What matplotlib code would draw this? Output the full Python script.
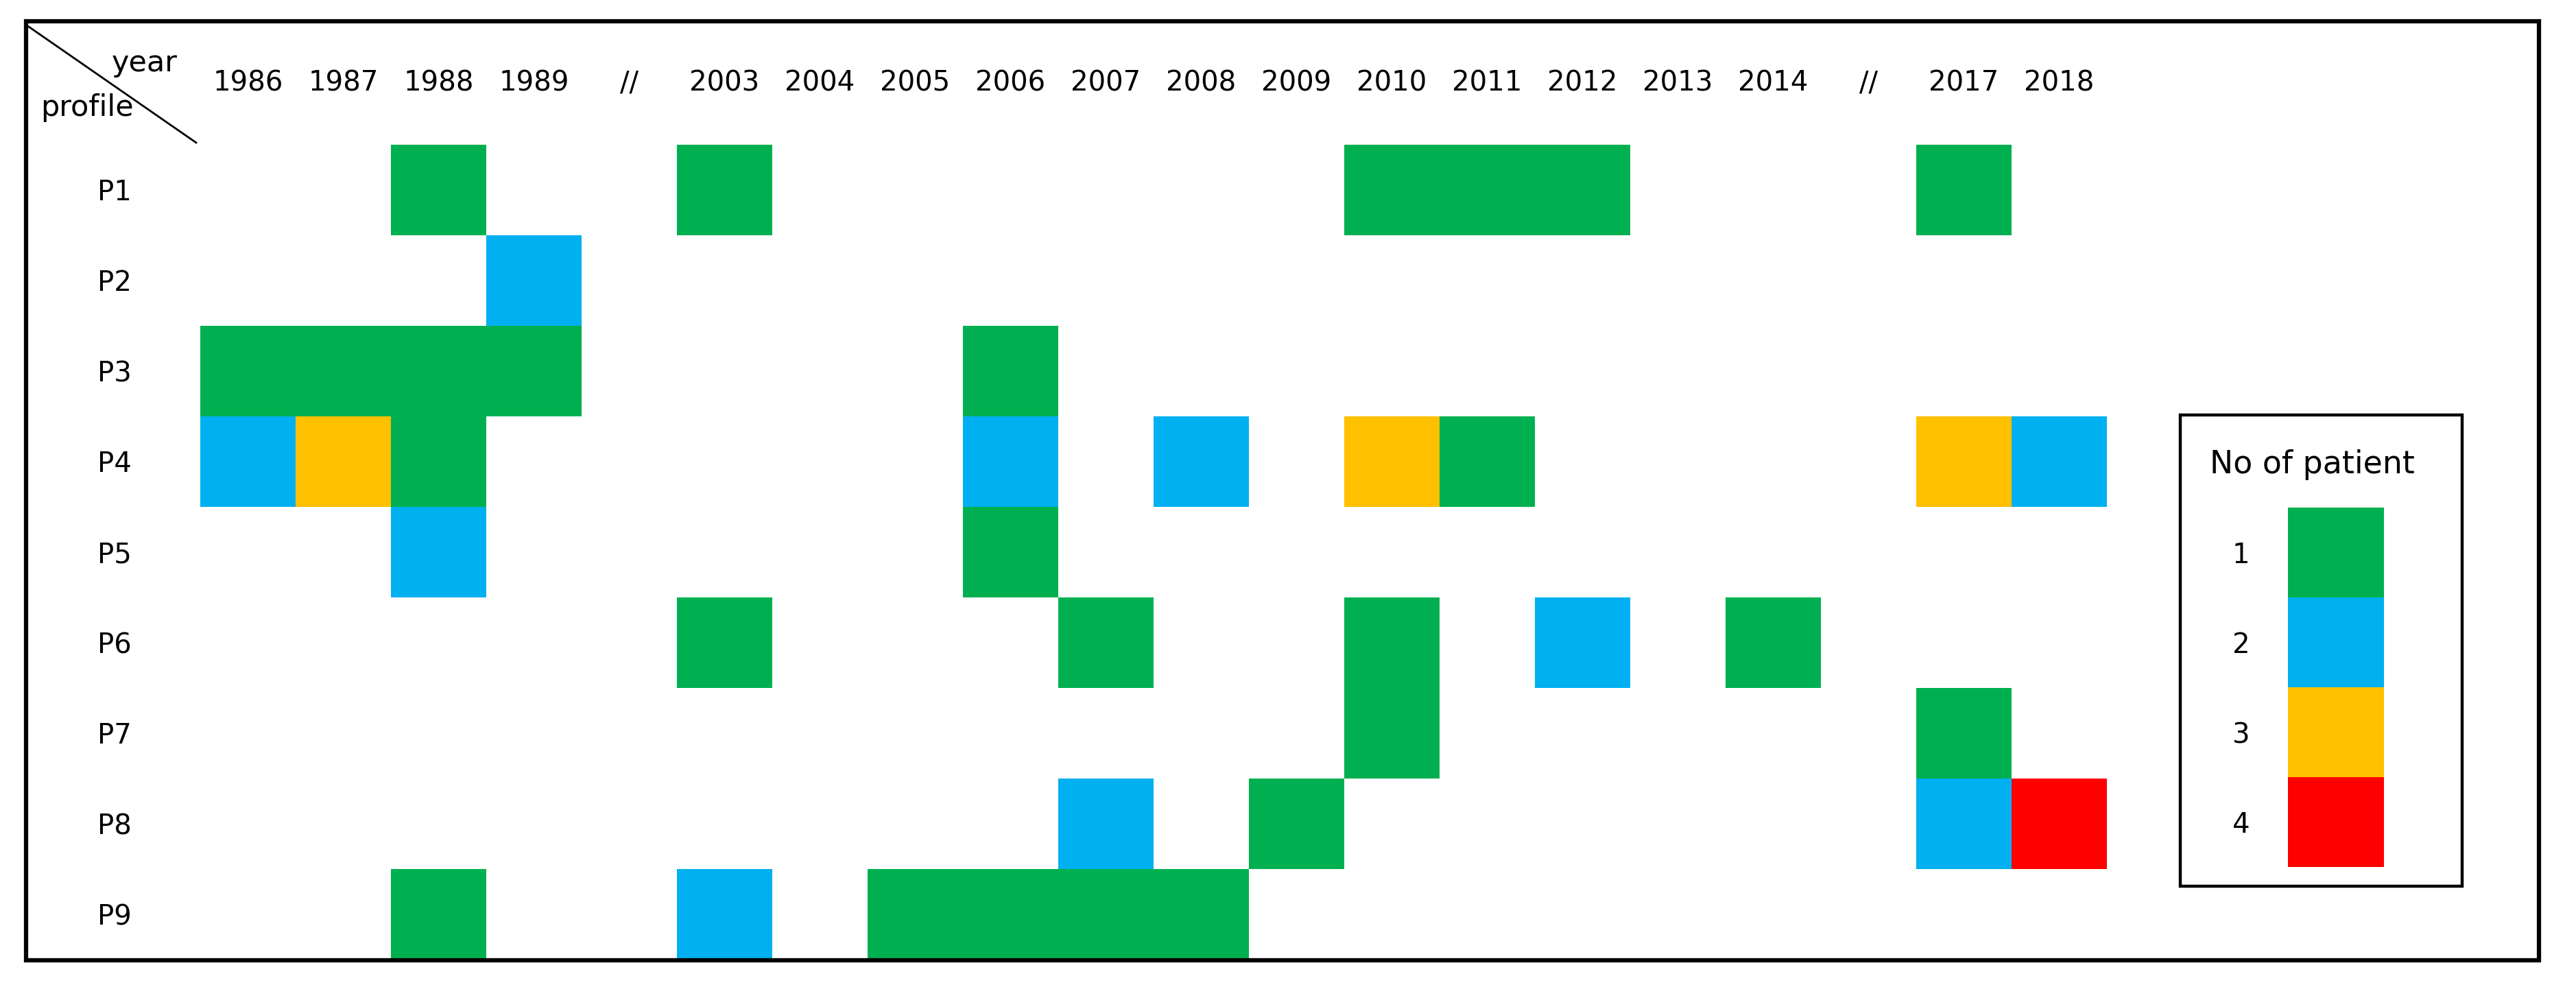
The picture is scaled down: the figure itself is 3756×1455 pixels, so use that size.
import numpy as np
import matplotlib
matplotlib.use("Agg")
import matplotlib.pyplot as plt
from matplotlib.colors import ListedColormap, BoundaryNorm
from matplotlib.patches import Rectangle
from matplotlib.lines import Line2D

# ---- data ----
years = ["1986", "1987", "1988", "1989", "//", "2003", "2004", "2005", "2006", "2007",
         "2008", "2009", "2010", "2011", "2012", "2013", "2014", "//", "2017", "2018"]
profiles = ["P1", "P2", "P3", "P4", "P5", "P6", "P7", "P8", "P9"]

P1 = [0, 0, 1, 0, 0, 1, 0, 0, 0, 0, 0, 0, 1, 1, 1, 0, 0, 0, 1, 0]
P2 = [0, 0, 0, 2, 0, 0, 0, 0, 0, 0, 0, 0, 0, 0, 0, 0, 0, 0, 0, 0]
P3 = [1, 1, 1, 1, 0, 0, 0, 0, 1, 0, 0, 0, 0, 0, 0, 0, 0, 0, 0, 0]
P4 = [2, 3, 1, 0, 0, 0, 0, 0, 2, 0, 2, 0, 3, 1, 0, 0, 0, 0, 3, 2]
P5 = [0, 0, 2, 0, 0, 0, 0, 0, 1, 0, 0, 0, 0, 0, 0, 0, 0, 0, 0, 0]
P6 = [0, 0, 0, 0, 0, 1, 0, 0, 0, 1, 0, 0, 1, 0, 2, 0, 1, 0, 0, 0]
P7 = [0, 0, 0, 0, 0, 0, 0, 0, 0, 0, 0, 0, 1, 0, 0, 0, 0, 0, 1, 0]
P8 = [0, 0, 0, 0, 0, 0, 0, 0, 0, 2, 0, 1, 0, 0, 0, 0, 0, 0, 2, 4]
P9 = [0, 0, 1, 0, 0, 2, 0, 1, 1, 1, 1, 0, 0, 0, 0, 0, 0, 0, 0, 0]

legend_values = [1, 2, 3, 4]
legend_title = "No of patient"
colors = ["#00B050", "#00B0F0", "#FFC000", "#FF0000"]

# ---- figure ----
W, H = 3756, 1455
fig = plt.figure(figsize=(W / 100, H / 100), dpi=100)
fig.patch.set_facecolor("white")

def fx(px):
    return px / W

def fy(py):
    return 1 - py / H

cmap = ListedColormap(colors)
norm = BoundaryNorm([0.5, 1.5, 2.5, 3.5, 4.5], cmap.N)

FS = 29

# main grid
col_w = 139
row_top, row_bot = 211, 1399
gx0 = 292
ax = fig.add_axes([fx(gx0), fy(row_bot), (len(years) * col_w) / W, (row_bot - row_top) / H])
mat = np.ma.masked_equal(np.array([P1, P2, P3, P4, P5, P6, P7, P8, P9]), 0)
ax.pcolormesh(np.arange(len(years) + 1), np.arange(len(profiles) + 1), mat,
              cmap=cmap, norm=norm, edgecolors="none", antialiased=False)
ax.set_xlim(0, len(years))
ax.set_ylim(len(profiles), 0)
ax.xaxis.tick_top()
ax.set_xticks(np.arange(len(years)) + 0.5, years, fontsize=FS)
ax.set_yticks(np.arange(len(profiles)) + 0.5, profiles, fontsize=FS)
ax.tick_params(length=0)
ax.tick_params(axis="x", pad=50)
ax.tick_params(axis="y", pad=72)
for s in ax.spines.values():
    s.set_visible(False)

# legend grid
lax = fig.add_axes([fx(3336), fy(1264), 140 / W, (1264 - 740) / H])
lmat = np.array(legend_values).reshape(-1, 1)
lax.pcolormesh([0, 1], np.arange(len(legend_values) + 1), lmat, cmap=cmap, norm=norm,
               edgecolors="none", antialiased=False)
lax.set_xlim(0, 1)
lax.set_ylim(len(legend_values), 0)
lax.set_xticks([])
lax.set_yticks(np.arange(len(legend_values)) + 0.5, [str(v) for v in legend_values], fontsize=FS)
lax.tick_params(length=0, pad=40)
for s in lax.spines.values():
    s.set_visible(False)
fig.text(fx(3371), fy(677), legend_title, fontsize=33, ha="center", va="center")
fig.add_artist(Rectangle((fx(3179), fy(1292)), (3590 - 3179) / W, (1292 - 605) / H,
                         transform=fig.transFigure, fill=False, edgecolor="black", linewidth=3.2))

# outer frame
fig.add_artist(Rectangle((fx(38), fy(1400)), (3702 - 38) / W, (1400 - 31) / H,
                         transform=fig.transFigure, fill=False, edgecolor="black", linewidth=4.5))

# header corner
fig.add_artist(Line2D([fx(42), fx(286)], [fy(39), fy(208)], transform=fig.transFigure,
                      color="black", linewidth=2))
fig.text(fx(211), fy(92), "year", fontsize=31, ha="center", va="center")
fig.text(fx(127), fy(157), "profile", fontsize=31, ha="center", va="center")

fig.savefig("out.png", dpi=100, facecolor="white")
